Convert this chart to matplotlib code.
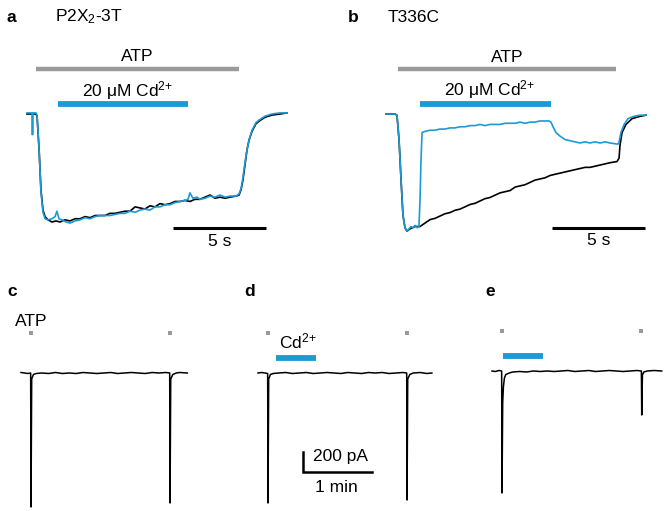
import numpy as np
import matplotlib
matplotlib.use("Agg")
import matplotlib.pyplot as plt

plt.rcParams['font.family'] = ['Liberation Sans', 'DejaVu Sans']
plt.rcParams['mathtext.fontset'] = 'custom'
plt.rcParams['mathtext.rm'] = 'Liberation Sans'
plt.rcParams['mathtext.it'] = 'Liberation Sans:italic'

BLUE = '#1b9ad6'
GREY = '#9a9a9a'
FS = 12.5

# ---- panel a: P2X2-3T, time (s) vs normalised current
a_black = [(0, 0), (0.48, 0), (0.54, -0.02), (0.65, -0.33), (0.75, -0.70), (0.86, -0.89),
           (0.97, -0.95), (1.13, -0.98), (1.34, -1.00), (1.56, -0.99), (1.77, -1.00),
           (2.04, -0.98), (2.31, -0.99), (2.58, -0.97), (2.85, -0.97), (3.12, -0.95),
           (3.39, -0.96), (3.66, -0.94), (3.92, -0.94), (4.19, -0.94), (4.46, -0.92),
           (4.73, -0.92), (5.00, -0.91), (5.27, -0.90), (5.54, -0.90), (5.81, -0.86),
           (6.08, -0.87), (6.34, -0.88), (6.61, -0.85), (6.88, -0.86), (7.15, -0.83),
           (7.42, -0.84), (7.69, -0.83), (7.96, -0.81), (8.23, -0.81), (8.49, -0.80),
           (8.76, -0.81), (9.03, -0.79), (9.30, -0.79), (9.57, -0.77), (9.84, -0.75),
           (10.11, -0.78), (10.38, -0.77), (10.65, -0.78), (10.91, -0.77), (11.24, -0.76),
           (11.40, -0.75), (11.51, -0.70), (11.61, -0.61), (11.72, -0.47), (11.83, -0.33),
           (11.94, -0.24), (12.10, -0.16), (12.31, -0.09), (12.53, -0.06), (12.80, -0.03),
           (13.17, -0.01), (13.60, 0), (13.98, 0.01)]
a_blue = [(0, 0.01), (0.22, 0.01), (0.27, 0.01), (0.27, -0.19), (0.32, -0.19), (0.32, 0.01),
          (0.48, 0.01), (0.54, -0.01), (0.65, -0.33), (0.75, -0.72), (0.86, -0.91),
          (0.97, -0.97), (1.13, -0.98), (1.34, -0.97), (1.51, -0.95), (1.61, -0.90),
          (1.72, -0.97), (1.88, -0.98), (2.10, -1.00), (2.31, -1.01), (2.58, -0.99),
          (2.85, -0.98), (3.12, -0.96), (3.39, -0.97), (3.66, -0.95), (3.92, -0.94),
          (4.19, -0.94), (4.46, -0.94), (4.73, -0.93), (5.00, -0.92), (5.27, -0.92),
          (5.54, -0.90), (5.81, -0.91), (6.08, -0.89), (6.34, -0.88), (6.61, -0.89),
          (6.88, -0.86), (7.15, -0.86), (7.42, -0.84), (7.69, -0.84), (7.96, -0.82),
          (8.23, -0.81), (8.49, -0.80), (8.66, -0.79), (8.76, -0.73), (8.92, -0.78),
          (9.14, -0.77), (9.30, -0.79), (9.57, -0.78), (9.84, -0.76), (10.11, -0.77),
          (10.38, -0.75), (10.65, -0.77), (10.91, -0.76), (11.24, -0.76), (11.40, -0.74),
          (11.51, -0.69), (11.61, -0.59), (11.72, -0.45), (11.83, -0.33), (11.94, -0.24),
          (12.10, -0.15), (12.31, -0.08), (12.53, -0.05), (12.80, -0.02), (13.17, 0),
          (13.60, 0.01), (13.98, 0.01)]
a_atp = (0.48, 11.40)
a_cd = (1.67, 8.66)

# ---- panel b: T336C
b_blue = [(0, 0), (0.48, 0), (0.59, -0.01), (0.70, -0.22), (0.81, -0.57), (0.91, -0.87),
          (1.02, -0.98), (1.13, -1.01), (1.24, -0.99), (1.34, -0.97), (1.45, -0.98),
          (1.56, -0.96), (1.67, -0.98), (1.77, -0.97), (1.83, -0.74), (1.88, -0.40),
          (1.94, -0.16), (2.10, -0.15), (2.37, -0.14), (2.63, -0.14), (2.90, -0.13),
          (3.17, -0.13), (3.44, -0.12), (3.71, -0.12), (3.98, -0.11), (4.25, -0.11),
          (4.52, -0.10), (4.79, -0.10), (5.05, -0.09), (5.32, -0.10), (5.59, -0.09),
          (5.86, -0.09), (6.13, -0.09), (6.40, -0.08), (6.67, -0.08), (6.94, -0.08),
          (7.20, -0.07), (7.47, -0.08), (7.74, -0.07), (8.01, -0.07), (8.28, -0.06),
          (8.76, -0.06), (8.87, -0.07), (8.98, -0.11), (9.14, -0.16), (9.35, -0.19),
          (9.62, -0.22), (9.89, -0.23), (10.16, -0.24), (10.43, -0.25), (10.70, -0.24),
          (10.97, -0.25), (11.24, -0.24), (11.51, -0.25), (11.78, -0.24), (12.04, -0.25),
          (12.47, -0.26), (12.53, -0.24), (12.63, -0.16), (12.80, -0.09), (13.01, -0.04),
          (13.33, -0.02), (13.66, -0.01), (13.98, -0.01)]
b_black = [(0, 0), (0.48, 0), (0.59, -0.01), (0.70, -0.22), (0.81, -0.57), (0.91, -0.87),
           (1.02, -0.98), (1.13, -1.01), (1.29, -0.99), (1.56, -0.97), (1.83, -0.97),
           (2.10, -0.94), (2.37, -0.91), (2.63, -0.90), (2.90, -0.88), (3.17, -0.86),
           (3.44, -0.85), (3.71, -0.83), (3.98, -0.82), (4.25, -0.80), (4.52, -0.78),
           (4.79, -0.77), (5.05, -0.75), (5.32, -0.73), (5.59, -0.72), (5.86, -0.70),
           (6.13, -0.68), (6.40, -0.67), (6.67, -0.66), (6.94, -0.63), (7.20, -0.62),
           (7.47, -0.61), (7.74, -0.59), (8.01, -0.57), (8.28, -0.56), (8.55, -0.55),
           (8.82, -0.53), (9.08, -0.52), (9.35, -0.51), (9.62, -0.50), (9.89, -0.49),
           (10.16, -0.48), (10.43, -0.47), (10.70, -0.46), (10.97, -0.46), (11.24, -0.45),
           (11.51, -0.44), (11.78, -0.43), (12.04, -0.42), (12.42, -0.41), (12.53, -0.38),
           (12.58, -0.27), (12.69, -0.16), (12.90, -0.09), (13.23, -0.04), (13.66, -0.02),
           (13.98, -0.01)]
b_atp = (0.65, 12.37)
b_cd = (1.83, 8.87)

# ---- panels c-e: time (min) vs current (pA)
c_trace = [(0, 5), (0.05, 0), (0.10, -5), (0.14, 0), (0.145, -1340), (0.155, -60), (0.18, -15),
           (0.22, -5), (0.3, 0), (0.4, -5), (0.5, 5), (0.6, -5), (0.7, 0), (0.8, -5), (0.9, 5),
           (1.0, 0), (1.1, -5), (1.2, 0), (1.3, 5), (1.4, -5), (1.5, 0), (1.6, 5), (1.7, 0),
           (1.8, -5), (1.9, 5), (2.0, 0), (2.1, 5), (2.155, 0), (2.16, -1300), (2.17, -60),
           (2.2, -15), (2.25, 0), (2.3, 5), (2.41, 0)]
d_trace = [(0, 0), (0.05, 5), (0.10, 0), (0.14, -5), (0.145, -1300), (0.155, -60), (0.18, -15),
           (0.22, -5), (0.3, 0), (0.4, 5), (0.5, -5), (0.6, 0), (0.7, 5), (0.8, -5), (0.9, 0),
           (1.0, 5), (1.1, 0), (1.2, -5), (1.3, 5), (1.4, 0), (1.5, -5), (1.6, 5), (1.7, 0),
           (1.8, 5), (1.9, -5), (2.0, 0), (2.1, 5), (2.155, 0), (2.16, -1270), (2.17, -60),
           (2.2, -15), (2.25, 0), (2.35, 5), (2.45, -5), (2.52, 0)]
e_trace = [(0, 0), (0.05, -5), (0.10, 5), (0.14, 0), (0.145, -1220), (0.155, -320), (0.165, -160),
           (0.18, -70), (0.2, -35), (0.25, -20), (0.3, -10), (0.4, -5), (0.5, -10), (0.6, 0),
           (0.7, -5), (0.8, 0), (0.9, -5), (1.0, 0), (1.1, 5), (1.2, -5), (1.3, 0), (1.4, 5),
           (1.5, -5), (1.6, 0), (1.7, 5), (1.8, 0), (1.9, -5), (2.0, 0), (2.1, 5), (2.165, 0),
           (2.17, -440), (2.18, -40), (2.2, -10), (2.25, 0), (2.35, 5), (2.46, 0)]
atp_times = [0.145, 2.16]
d_cd = (0.26, 0.84)
e_cd = (0.16, 0.74)

CD_LABEL = r'Cd$^{\mathregular{2{+}}}$'

W, H = 666, 511
fig = plt.figure(figsize=(W / 100, H / 100), dpi=100)


def trace_axes(box, x0, xscale, y0, yscale):
    # box in pixels (left, top, width, height); x0/y0 = pixel of data origin
    left, top, w, h = box
    ax = fig.add_axes([left / W, 1 - (top + h) / H, w / W, h / H])
    ax.set_xlim((left - x0) / xscale, (left + w - x0) / xscale)
    ax.set_ylim((y0 - top - h) / yscale, (y0 - top) / yscale)
    ax.axis('off')
    return ax


def plot_trace(ax, pts, color, lw=1.2):
    t, i = np.array(pts).T
    ax.plot(t, i, color=color, lw=lw, clip_on=False, solid_joinstyle='round')


# panel a
ax = trace_axes((15, 40, 300, 210), 27, 18.6, 114, 108)
plot_trace(ax, a_black, 'black')
plot_trace(ax, a_blue, BLUE)
ax.plot(a_atp, [0.42, 0.42], color=GREY, lw=3.2, solid_capstyle='butt')
ax.plot(a_cd, [0.09, 0.09], color=BLUE, lw=4.2, solid_capstyle='butt')
ax.text(np.mean(a_atp), 0.53, 'ATP', ha='center', va='center', fontsize=FS)
ax.text(5.38, 0.22, '20 μM ' + CD_LABEL, ha='center', va='center', fontsize=FS)
ax.plot([7.85, 12.85], [-1.06, -1.06], color='black', lw=2.2, solid_capstyle='butt')
ax.text(10.35, -1.185, '5 s', ha='center', va='center', fontsize=FS)

# panel b
ax = trace_axes((375, 40, 285, 210), 386, 18.6, 114, 116)
plot_trace(ax, b_black, 'black')
plot_trace(ax, b_blue, BLUE)
ax.plot(b_atp, [0.39, 0.39], color=GREY, lw=3.2, solid_capstyle='butt')
ax.plot(b_cd, [0.086, 0.086], color=BLUE, lw=4.2, solid_capstyle='butt')
ax.text(np.mean(b_atp), 0.49, 'ATP', ha='center', va='center', fontsize=FS)
ax.text(5.59, 0.21, '20 μM ' + CD_LABEL, ha='center', va='center', fontsize=FS)
ax.plot([8.92, 13.92], [-0.98, -0.98], color='black', lw=2.2, solid_capstyle='butt')
ax.text(11.42, -1.09, '5 s', ha='center', va='center', fontsize=FS)

# panels c, d, e
panels = [((10, 310, 200, 200), 21, 373, c_trace, None),
          ((245, 310, 200, 200), 258, 373, d_trace, d_cd),
          ((480, 310, 186, 200), 492, 371, e_trace, e_cd)]
for box, x0, y0, tr, cd in panels:
    ax = trace_axes(box, x0, 69, y0, 0.1)
    plot_trace(ax, tr, 'black', lw=1.1)
    ax.plot(atp_times, [400, 400], ls='none', marker='s', ms=3, color=GREY, mew=0)
    if cd is not None:
        ax.plot(cd, [150, 150], color=BLUE, lw=4.2, solid_capstyle='butt')
    if tr is c_trace:
        ax.text(0.145, 510, 'ATP', ha='center', va='center', fontsize=FS)
    if tr is d_trace:
        ax.text(0.58, 320, CD_LABEL, ha='center', va='center', fontsize=FS)
        ax.plot([0.652, 0.652, 1.652], [-790, -990, -990], color='black', lw=1.8,
                solid_joinstyle='miter')
        ax.text(0.80, -835, '200 pA', ha='left', va='center', fontsize=FS)
        ax.text(1.14, -1150, '1 min', ha='center', va='center', fontsize=FS)

# panel labels and titles
for lbl, x, y in [('a', 11, 17), ('b', 353, 17), ('c', 12, 291), ('d', 250, 291), ('e', 490, 291)]:
    fig.text(x / W, 1 - y / H, lbl, fontsize=FS, fontweight='bold', ha='center', va='center')
fig.text(55 / W, 1 - 17 / H, r'P2X$_2$-3T', fontsize=FS, ha='left', va='center')
fig.text(388 / W, 1 - 17 / H, 'T336C', fontsize=FS, ha='left', va='center')

fig.savefig('out.png', dpi=100, facecolor='white')
